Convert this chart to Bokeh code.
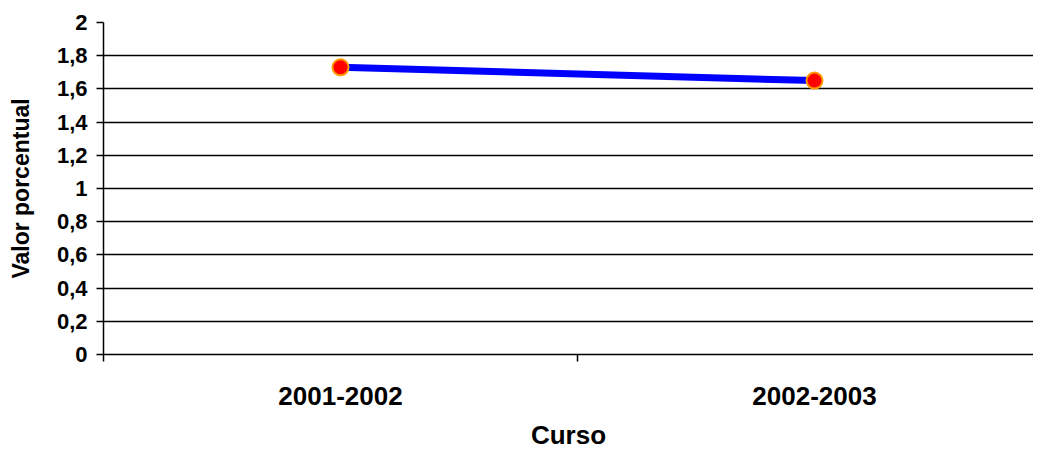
from bokeh.plotting import figure
from bokeh.models import ColumnDataSource, FixedTicker, Range1d
from bokeh.embed import file_html
from bokeh.resources import INLINE

cursos = ["2001-2002", "2002-2003"]
valores = [1.73, 1.65]
y_ticks = [0, 0.2, 0.4, 0.6, 0.8, 1.0, 1.2, 1.4, 1.6, 1.8, 2.0]
y_labels = ["0", "0,2", "0,4", "0,6", "0,8", "1", "1,2", "1,4", "1,6", "1,8", "2"]

xpos = [i + 0.5 for i in range(len(cursos))]
src = ColumnDataSource(dict(x=xpos, y=valores, c=cursos))

FW = 930
p = figure(width=1033, height=442, frame_width=FW, frame_height=332, output_backend="svg",
           toolbar_location=None, x_range=Range1d(0, FW / 474), y_range=Range1d(0, 2),
           min_border_left=103, min_border_top=22, min_border_right=0, min_border_bottom=0)
p.outline_line_color = None
p.background_fill_color = "white"
p.border_fill_color = "white"

p.line("x", "y", source=src, line_color="#0000FF", line_width=7)
p.scatter("x", "y", source=src, size=16, fill_color="#FF0000", line_color="#FF9900", line_width=2)

font = "Liberation Sans"
# Y axis
ya = p.yaxis[0]
ya.ticker = FixedTicker(ticks=y_ticks, minor_ticks=[])
ya.major_label_overrides = {t: l for t, l in zip(y_ticks, y_labels)}
ya.major_label_text_font = font
ya.major_label_text_font_style = "bold"
ya.major_label_text_font_size = "22px"
ya.major_label_text_color = "black"
ya.major_tick_out = 7
ya.major_tick_in = 0
ya.major_tick_line_width = 1.5
ya.axis_line_width = 1.5
ya.axis_line_color = "black"
ya.major_label_standoff = 9
ya.axis_label = "Valor porcentual"
ya.axis_label_text_font = font
ya.axis_label_text_font_style = "bold"
ya.axis_label_text_font_size = "23px"
ya.axis_label_text_color = "black"
ya.axis_label_standoff = 20

# X axis
xa = p.xaxis[0]
xa.ticker = FixedTicker(ticks=xpos, minor_ticks=[0, 1, 2])
xa.major_label_overrides = {x: c for x, c in zip(xpos, cursos)}
xa.major_tick_out = 0
xa.major_tick_in = 0
xa.minor_tick_out = 7
xa.minor_tick_in = 0
xa.minor_tick_line_width = 1.5
xa.minor_tick_line_color = "black"
xa.axis_line_width = 1.5
xa.axis_line_color = "black"
xa.major_label_text_font = font
xa.major_label_text_font_style = "bold"
xa.major_label_text_font_size = "26px"
xa.major_label_text_color = "black"
xa.major_label_standoff = 25
xa.axis_label = "Curso"
xa.axis_label_text_font = font
xa.axis_label_text_font_style = "bold"
xa.axis_label_text_font_size = "26px"
xa.axis_label_text_color = "black"
xa.axis_label_text_line_height = 0.8
xa.axis_label_standoff = 12

p.xgrid.grid_line_color = None
p.ygrid.ticker = FixedTicker(ticks=y_ticks)
p.ygrid.grid_line_color = "black"
p.ygrid.grid_line_width = 1.5

open("out.html", "w").write(file_html(p, INLINE))
